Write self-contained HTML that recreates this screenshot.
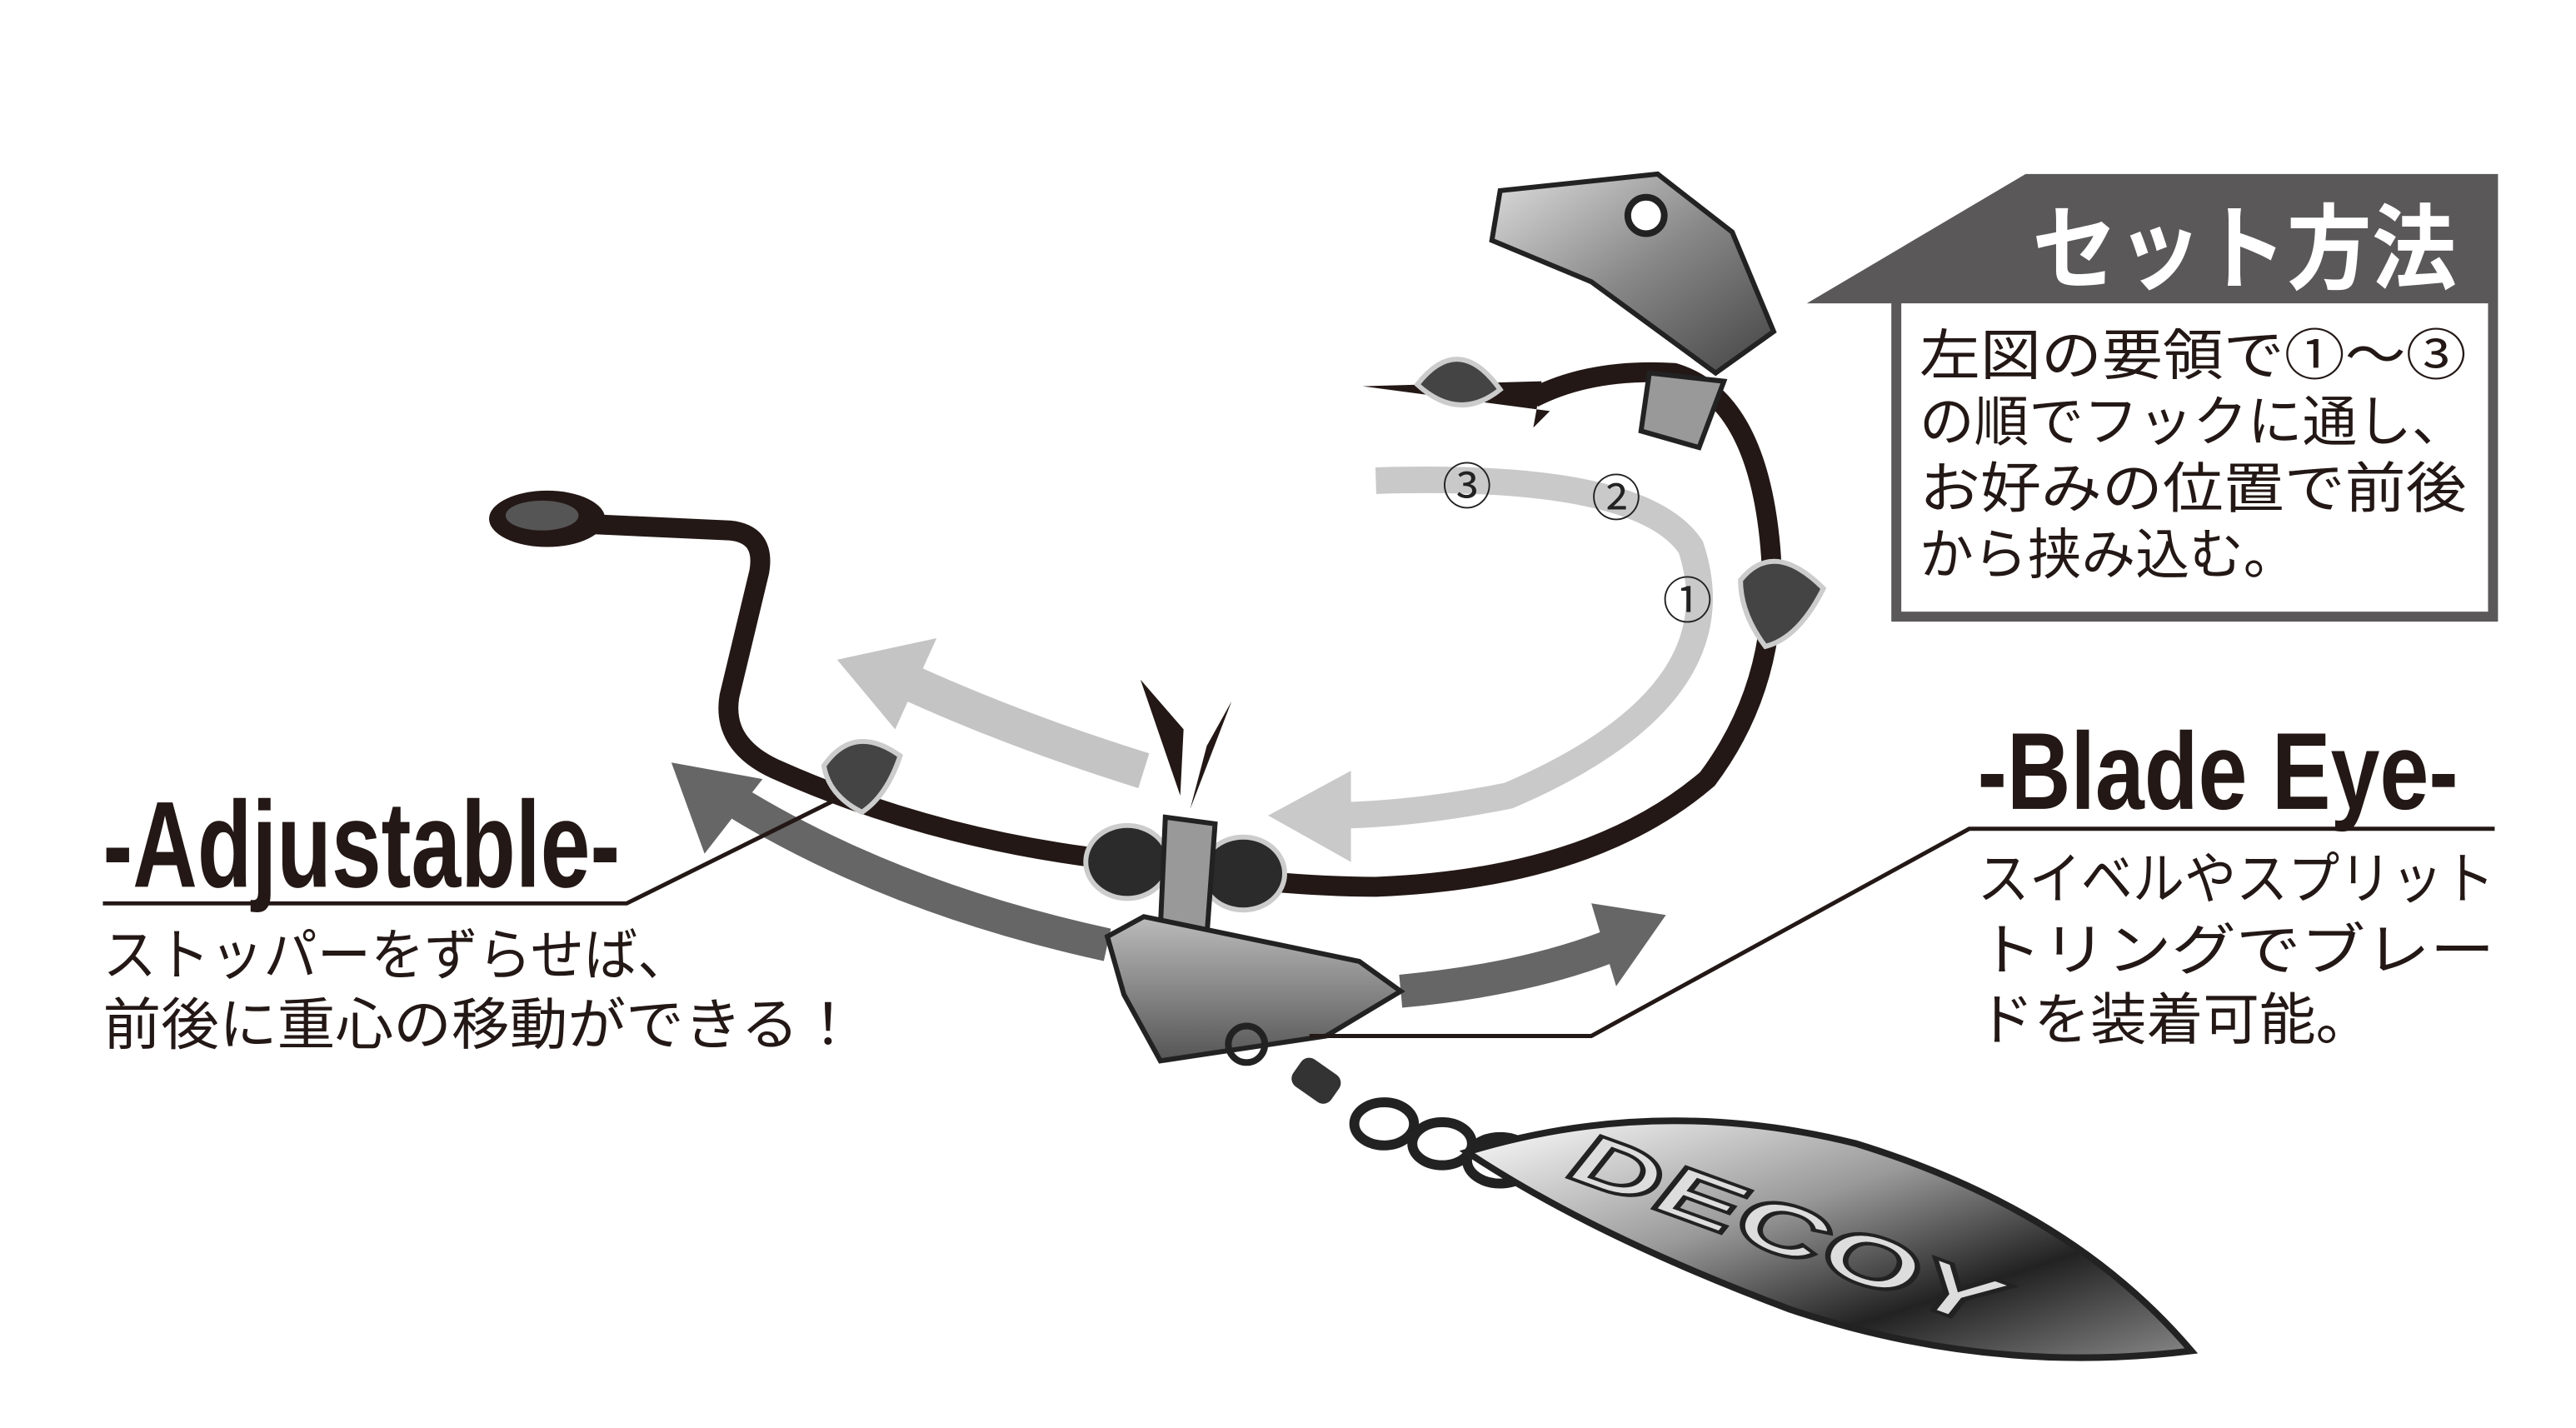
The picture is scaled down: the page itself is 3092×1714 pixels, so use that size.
<!DOCTYPE html>
<html><head><meta charset="utf-8"><style>
html,body{margin:0;padding:0;background:#fff;}
svg{display:block;}
.jp{font-family:"Liberation Sans","Noto Sans CJK JP",sans-serif;}
</style></head><body>
<svg width="3092" height="1714" viewBox="0 0 1554 861.5" xmlns="http://www.w3.org/2000/svg">
<defs>
<linearGradient id="g1" x1="0" y1="0" x2="1" y2="1"><stop offset="0" stop-color="#ddd"/><stop offset="0.5" stop-color="#888"/><stop offset="1" stop-color="#444"/></linearGradient>
<linearGradient id="g2" x1="0" y1="0" x2="0" y2="1"><stop offset="0" stop-color="#bbb"/><stop offset="1" stop-color="#555"/></linearGradient>
<linearGradient id="bl" x1="0" y1="0" x2="1" y2="1"><stop offset="0" stop-color="#fff"/><stop offset="0.4" stop-color="#999"/><stop offset="0.7" stop-color="#222"/><stop offset="1" stop-color="#888"/></linearGradient>
</defs>

<polygon points="1090,183 1222,105 1507,105 1507,375 1141,375 1141,183" fill="#5a5859"/>
<rect x="1147" y="183" width="354" height="186" fill="#fff"/>
<text x="1226" y="170" class="jp" font-size="56" font-weight="bold" fill="#fff" textLength="256" lengthAdjust="spacingAndGlyphs">セット方法</text>
<g class="jp" font-size="33" fill="#231815">
<text x="1158" y="226" textLength="330" lengthAdjust="spacingAndGlyphs">左図の要領で①～③</text>
<text x="1158" y="266" textLength="330" lengthAdjust="spacingAndGlyphs">の順でフックに通し、</text>
<text x="1158" y="306" textLength="330" lengthAdjust="spacingAndGlyphs">お好みの位置で前後</text>
<text x="1158" y="346" textLength="228" lengthAdjust="spacingAndGlyphs">から挟み込む。</text>
</g>

<path d="M690,465 Q610,440 545,410" stroke="#c4c4c4" stroke-width="22" fill="none"/>
<polygon points="505,398 565,385 540,440" fill="#c4c4c4"/>
<path d="M830,290 Q990,285 1020,330 Q1050,420 910,480 Q850,492 800,492" stroke="#c9c9c9" stroke-width="16" fill="none"/>
<polygon points="765,492 815,465 815,520" fill="#c9c9c9"/>
<path d="M668,570 Q530,540 430,475" stroke="#666" stroke-width="20" fill="none"/>
<polygon points="405,460 460,470 425,515" fill="#666"/>
<path d="M845,598 Q930,590 985,565" stroke="#666" stroke-width="20" fill="none"/>
<polygon points="1005,552 960,545 975,595" fill="#666"/>

<g class="jp" font-size="30" fill="#222" text-anchor="middle">
<text x="885" y="304">③</text><text x="975" y="311">②</text><text x="1018" y="373">①</text>
</g>

<path d="M330,315 L440,320 Q462,322 458,345 L440,420 Q435,450 470,465 Q560,505 665,518 Q760,535 830,535 Q960,530 1030,470 Q1075,410 1068,330 Q1060,240 1010,225 Q960,222 925,240" stroke="#231815" stroke-width="12" fill="none" stroke-linejoin="round"/>
<polygon points="930,230 822,233 935,248 925,258" fill="#231815"/>
<ellipse cx="330" cy="313" rx="35" ry="17" fill="#231815"/>
<ellipse cx="327" cy="311" rx="22" ry="9" fill="#555"/>

<polygon points="688,410 714,440 712,480" fill="#231815"/>
<polygon points="743,423 728,450 718,488" fill="#231815"/>

<path d="M497,462 Q515,436 543,456 Q535,480 520,490 Q500,480 497,462Z" fill="#444" stroke="#ccc" stroke-width="3"/>
<ellipse cx="680" cy="520" rx="25" ry="22" fill="#2b2b2b" stroke="#ccc" stroke-width="3"/>
<ellipse cx="750" cy="527" rx="25" ry="22" fill="#2b2b2b" stroke="#ccc" stroke-width="3"/>
<path d="M855,232 Q880,200 905,235 Q880,255 855,232Z" fill="#444" stroke="#ccc" stroke-width="3"/>
<path d="M1050,350 Q1070,325 1100,355 Q1085,385 1065,390 Q1050,370 1050,350Z" fill="#444" stroke="#ccc" stroke-width="3"/>

<polygon points="703,493 733,497 728,565 700,560" fill="#999" stroke="#222" stroke-width="3"/>
<polygon points="668,565 690,553 820,580 845,598 800,625 700,640 678,600" fill="url(#g2)" stroke="#222" stroke-width="3"/>
<circle cx="752" cy="630" r="11" fill="none" stroke="#222" stroke-width="4"/>

<polygon points="905,115 1000,105 1045,140 1070,200 1035,225 960,170 900,145" fill="url(#g1)" stroke="#222" stroke-width="3"/>
<polygon points="995,225 1040,230 1025,270 990,260" fill="#999" stroke="#222" stroke-width="3"/>
<circle cx="993" cy="130" r="11" fill="#fff" stroke="#222" stroke-width="4"/>

<rect x="780" y="642" width="28" height="20" rx="6" transform="rotate(35 794 652)" fill="#333"/>
<ellipse cx="835" cy="678" rx="18" ry="13" fill="none" stroke="#222" stroke-width="6"/>
<ellipse cx="870" cy="690" rx="18" ry="13" fill="none" stroke="#222" stroke-width="6"/>
<ellipse cx="905" cy="700" rx="20" ry="14" fill="none" stroke="#222" stroke-width="6"/>

<path d="M885,695 Q1000,660 1120,690 Q1250,730 1322,815 Q1200,830 1080,790 Q960,745 885,695Z" fill="url(#bl)" stroke="#222" stroke-width="4"/>
<text x="945" y="710" font-family="Liberation Sans" font-weight="bold" font-style="italic" font-size="44" fill="#ddd" stroke="#222" stroke-width="2" transform="rotate(20 945 710)" textLength="270" lengthAdjust="spacingAndGlyphs">DECOY</text>

<text x="62" y="535" font-family="Liberation Sans" font-weight="bold" font-size="74" fill="#231815" textLength="312" lengthAdjust="spacingAndGlyphs">-Adjustable-</text>
<polyline points="62,545 378,545 505,482" fill="none" stroke="#231815" stroke-width="2.5"/>
<g class="jp" font-size="34" fill="#231815">
<text x="62" y="588" textLength="355" lengthAdjust="spacingAndGlyphs">ストッパーをずらせば、</text>
<text x="62" y="630" textLength="455" lengthAdjust="spacingAndGlyphs">前後に重心の移動ができる！</text>
</g>

<text x="1193" y="488" font-family="Liberation Sans" font-weight="bold" font-size="66" fill="#231815" textLength="290" lengthAdjust="spacingAndGlyphs">-Blade Eye-</text>
<polyline points="1505,500 1188,500 960,625 790,625" fill="none" stroke="#231815" stroke-width="2.5"/>
<g class="jp" font-size="34" fill="#231815">
<text x="1193" y="542" textLength="312" lengthAdjust="spacingAndGlyphs">スイベルやスプリット</text>
<text x="1193" y="585" textLength="312" lengthAdjust="spacingAndGlyphs">トリングでブレー</text>
<text x="1193" y="627" textLength="238" lengthAdjust="spacingAndGlyphs">ドを装着可能。</text>
</g>
</svg>
</body></html>
